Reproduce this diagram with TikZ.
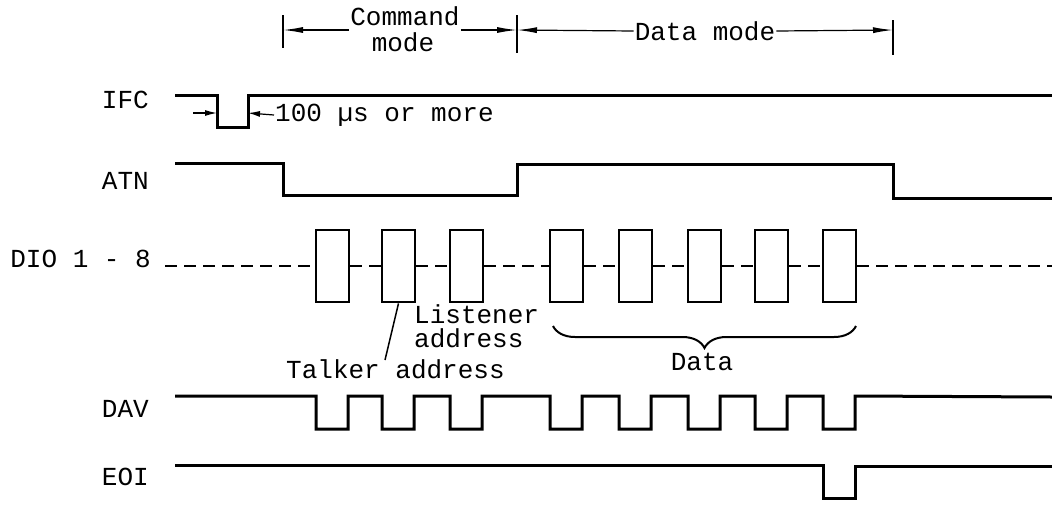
\documentclass[tikz,border=0pt]{standalone}
\usepackage{fontspec}
\setmonofont{Liberation Mono}
\usepackage{tikz}
\usetikzlibrary{arrows.meta, decorations.pathreplacing}

\begin{document}
\begin{tikzpicture}[x=1pt, y=-1pt,
    sig/.style={line width=3pt, line join=miter},
    txt/.style={font=\ttfamily\fontsize{26}{28}\selectfont, inner sep=1pt},
    lbl/.style={txt, anchor=east},
    databox/.style={draw, line width=2.8pt, fill=white, minimum width=33pt, minimum height=72pt, inner sep=0pt},
    dio/.style={line width=2pt, dash pattern=on 12pt off 7pt},
    dim/.style={line width=1.2pt, -{Latex[length=20pt, width=6pt]}},
    tick/.style={line width=1.6pt},
]
  \useasboundingbox (0,0) rectangle (1052,504);

  % Mode dimensions on top
  \coordinate (t1) at (283,30);
  \coordinate (t2) at (517,30);
  \coordinate (t3) at (893,30);
  \draw[tick] (283,15) -- (283,48);
  \draw[tick] (517,15) -- (517,53);
  \draw[tick] (893,20) -- (893,55);
  \node[txt] (cmd) at (405,16) {Command};
  \node[txt] (cmdm) at (403,42) {mode};
  \node[txt] (dmode) at (705,31) {Data mode};
  \draw[dim] (cmd.west |- t1) -- (t1);
  \draw[dim] (cmd.east |- t2) -- (t2);
  \draw[dim] (dmode.west) -- (t2);
  \draw[dim] (dmode.east) -- (t3);

  % Signal names
  \node[lbl] (ifc) at (150,100) {IFC};
  \node[lbl] (atn) at (150,181) {ATN};
  \node[lbl] (dio) at (152,259) {DIO 1 - 8};
  \node[lbl] (dav) at (150,409) {DAV};
  \node[lbl] (eoi) at (150,477) {EOI};

  % IFC pulse
  \draw[sig] (175,95) -- (217,95) -- (217,127) -- (248,127) -- (248,95) -- (1052,95);
  \coordinate (ifcl) at (217,113);
  \coordinate (ifcr) at (248,113);
  \draw[line width=1.2pt, -{Latex[length=12pt, width=6pt]}] (193,113) -- (ifcl);
  \node[txt, anchor=west] (width) at (274,115) {100 µs or more};
  \draw[line width=1.2pt, -{Latex[length=12pt, width=6pt]}] (width.west) -- (ifcr);

  % ATN
  \draw[sig] (175,163) -- (283,163) -- (283,195) -- (517,195) -- (517,164)
        -- (893,164) -- (893,198) -- (1052,198);

  % DIO bytes
  \foreach \f [count=\i] in {316,382,450,550,619,688,755,823}
      \node[databox] (b\i) at (\f+16.5,266) {};
  \draw[dio] (165,266) -- (b1.west);
  \foreach \i/\j in {1/2, 2/3, 3/4, 4/5, 5/6, 6/7, 7/8}
      \draw[dio] (b\i.east) -- (b\j.west);
  \draw[dio] (b8.east) -- (1052,266);

  % Address and data labels
  \node[txt, anchor=base west] (lis) at (413,323) {Listener};
  \node[txt, anchor=base west] (lisa) at (413,347) {address};
  \node[txt, anchor=base west] (talk) at (285,378) {Talker address};
  \coordinate (tk) at (385,360);
  \draw[line width=1.5pt] (b2.south) -- (tk);
  \draw[line width=2pt, decorate, decoration={brace, amplitude=22pt}]
        (856,326) -- (553,326);
  \node[txt] (data) at (702,362) {Data};

  % DAV handshake
  \draw[sig] (175,396) \foreach \f in {316,382,450,550,619,688,755,823}
        { -- (\f,396) -- (\f,429) -- (\f+32,429) -- (\f+32,396) } -- (1052,397);

  % EOI
  \draw[sig] (175,465) -- (823,465) -- (823,498) -- (855,498) -- (855,466) -- (1052,466);
\end{tikzpicture}
\end{document}
